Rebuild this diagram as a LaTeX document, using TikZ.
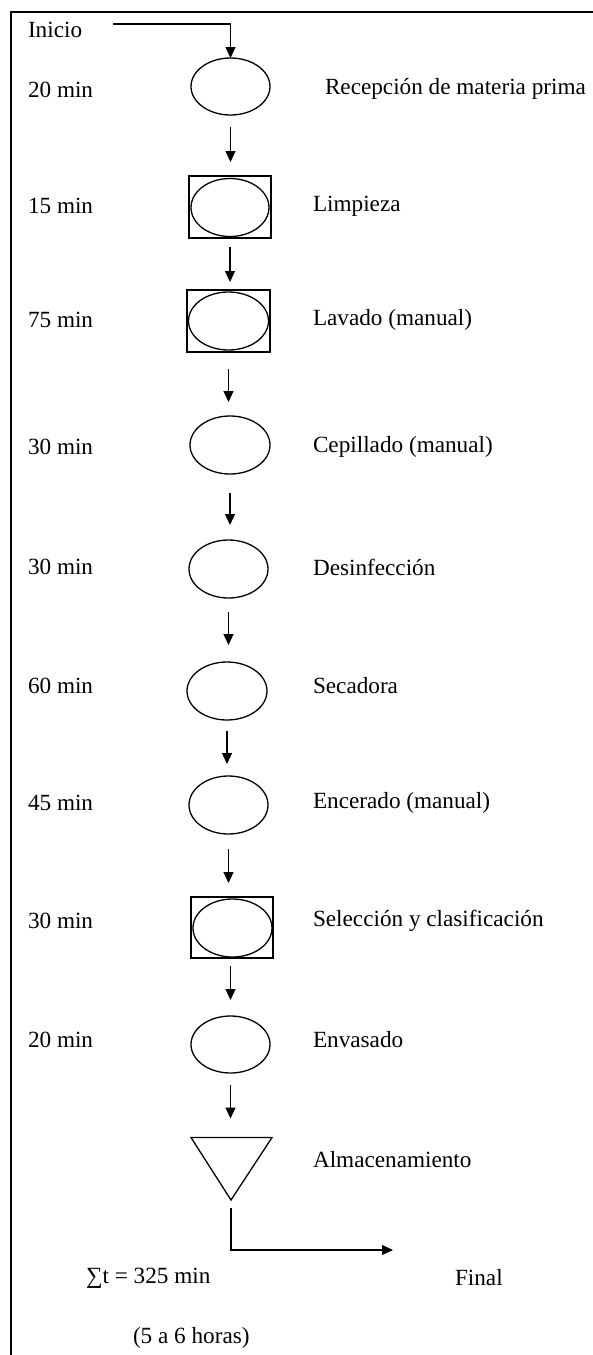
\documentclass[tikz,border=0pt]{standalone}
\usepackage{fontspec}
\setmainfont{Liberation Serif}
\usetikzlibrary{shapes.geometric,arrows.meta}

\begin{document}
\begin{tikzpicture}[y=0.5pt, x=0.5pt, yscale=-1, inner sep=0pt, outer sep=0pt,
  every node/.style={font=\fontsize{11.6}{14}\selectfont},
  oval/.style={draw=black, ellipse, line width=0.65pt, minimum width=39.5pt,
    minimum height=28.5pt},
  rectbox/.style={draw=black, rectangle, line width=0.65pt, minimum width=41pt,
    minimum height=31pt},
  lbl/.style={anchor=west},
  flow/.style={draw=black, line width=0.6pt, -{Triangle[length=5.5pt,width=5pt]}}]
  \useasboundingbox (0,0) rectangle (593,1355);
  % frame
  \path[draw=black, line width=1pt] (11,1355) -- (11,12) -- (593,12);
  % start
  \path (28,30) node[lbl] (text01) {Inicio};
  \coordinate (start01) at (113,24);
  \coordinate (corner01) at (230.5,24);
  % steps
  \path (230.5,86.5) node[oval] (ellipse01) {};
  \path (230,207) node[rectbox] (rect02) {};
  \path (230,207.5) node[oval, minimum width=39pt, minimum height=29pt] (ellipse02) {};
  \path (228.5,321) node[rectbox, minimum width=41.5pt] (rect03) {};
  \path (228.5,321) node[oval, minimum width=40pt, minimum height=29pt] (ellipse03) {};
  \path (230,445) node[oval, minimum width=40pt, minimum height=29pt] (ellipse04) {};
  \path (228.5,569) node[oval, minimum height=29pt] (ellipse05) {};
  \path (227,691) node[oval, minimum width=40pt, minimum height=29pt] (ellipse06) {};
  \path (228.5,805) node[oval, minimum height=29pt] (ellipse07) {};
  \path (232,927.5) node[rectbox, minimum height=30.5pt] (rect08) {};
  \path (232.5,928) node[oval, minimum height=29pt] (ellipse08) {};
  \path (230.5,1044.5) node[oval] (ellipse09) {};
  \path[draw=black, line width=0.65pt] (191,1137.5) -- (272,1137.5) -- (231,1200) -- cycle;
  \coordinate (tri10) at (231,1137.5);
  \coordinate (apex10) at (231,1208);
  \coordinate (end10) at (393,1250);
  % times
  \path (28,90) node[lbl] (text02) {20 min};
  \path (28,206) node[lbl] (text03) {15 min};
  \path (28,320) node[lbl] (text04) {75 min};
  \path (28,447) node[lbl] (text05) {30 min};
  \path (28,567) node[lbl] (text06) {30 min};
  \path (28,686) node[lbl] (text07) {60 min};
  \path (28,803) node[lbl] (text08) {45 min};
  \path (28,921) node[lbl] (text09) {30 min};
  \path (28,1040) node[lbl] (text10) {20 min};
  % names
  \path (325,89) node[lbl] (text11) {Recepción de materia prima};
  \path (313,206) node[lbl] (text12) {Limpieza};
  \path (313,320) node[lbl] (text13) {Lavado (manual)};
  \path (313,447) node[lbl] (text14) {Cepillado (manual)};
  \path (313,567) node[lbl] (text15) {Desinfección};
  \path (313,686) node[lbl] (text16) {Secadora};
  \path (313,803) node[lbl] (text17) {Encerado (manual)};
  \path (313,921) node[lbl] (text18) {Selección y clasificación};
  \path (313,1040) node[lbl] (text19) {Envasado};
  \path (313,1160) node[lbl] (text20) {Almacenamiento};
  % totals
  \path (86,1278) node[lbl] (text21) {∑t = 325 min};
  \path (455,1278) node[lbl] (text22) {Final};
  \path (133,1338) node[lbl] (text23) {(5 a 6 horas)};
  % arrows
  \draw[flow] (start01) -- (corner01) -- (ellipse01.north);
  \draw[flow, shorten <=6pt, shorten >=7pt] (ellipse01.south) -- (ellipse01.south |- rect02.north);
  \draw[flow, shorten <=4.5pt, shorten >=4pt] (rect02.south) -- (rect02.south |- rect03.north);
  \draw[flow, shorten <=8.5pt, shorten >=7pt] (rect03.south) -- (rect03.south |- ellipse04.north);
  \draw[flow, shorten <=9.5pt, shorten >=7.5pt] (ellipse04.south) -- (ellipse04.south |- ellipse05.north);
  \draw[flow, shorten <=7pt, shorten >=8.5pt] (ellipse05.south) -- (ellipse05.south |- ellipse06.north);
  \draw[flow, shorten <=5.5pt, shorten >=6pt] (ellipse06.south) -- (ellipse06.south |- ellipse07.north);
  \draw[flow, shorten <=7.5pt, shorten >=7pt] (ellipse07.south) -- (ellipse07.south |- rect08.north);
  \draw[flow, shorten <=4pt, shorten >=8pt] (ellipse09.north |- rect08.south) -- (ellipse09.north);
  \draw[flow, shorten <=6pt, shorten >=9.5pt] (ellipse09.south) -- (ellipse09.south |- tri10);
  \draw[flow] (apex10) |- (end10);
\end{tikzpicture}
\end{document}
